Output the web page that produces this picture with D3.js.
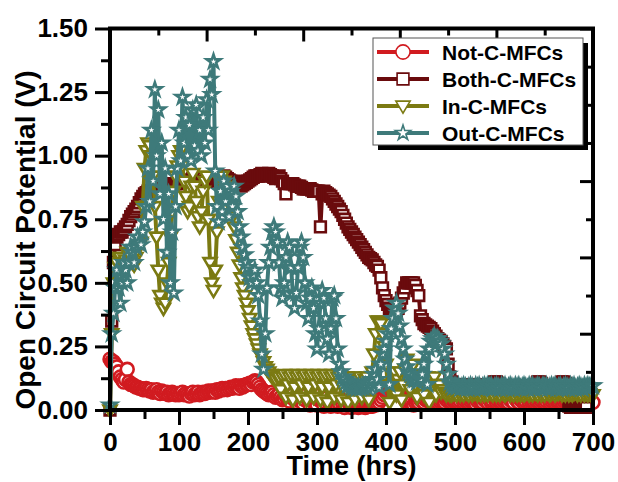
<!DOCTYPE html>
<html><head><meta charset="utf-8">
<script src="https://cdn.jsdelivr.net/npm/d3@7"></script>
<style>
body{margin:0;background:#fff}
text{font-family:"Liberation Sans",Arial,sans-serif;font-weight:bold;fill:#000}
</style>
</head><body>
<svg id="chart" width="618" height="482"></svg>
<script>
// ---- DATA ----
const hours = [
  0,2.5,5,7.5,10,12.5,15,17.5,20,22.5,25,27.5,30,32.5,35,37.5,40,42.5,45,47.5,
  50,52.5,55,57.5,60,62.5,65,67.5,70,72.5,75,77.5,80,82.5,85,87.5,90,92.5,95,97.5,
  100,102.5,105,107.5,110,112.5,115,117.5,120,122.5,125,127.5,130,132.5,135,137.5,140,142.5,145,147.5,
  150,152.5,155,157.5,160,162.5,165,167.5,170,172.5,175,177.5,180,182.5,185,187.5,190,192.5,195,197.5,
  200,202.5,205,207.5,210,212.5,215,217.5,220,222.5,225,227.5,230,232.5,235,237.5,240,242.5,245,247.5,
  250,252.5,255,257.5,260,262.5,265,267.5,270,272.5,275,277.5,280,282.5,285,287.5,290,292.5,295,297.5,
  300,302.5,305,307.5,310,312.5,315,317.5,320,322.5,325,327.5,330,332.5,335,337.5,340,342.5,345,347.5,
  350,352.5,355,357.5,360,362.5,365,367.5,370,372.5,375,377.5,380,382.5,385,387.5,390,392.5,395,397.5,
  400,402.5,405,407.5,410,412.5,415,417.5,420,422.5,425,427.5,430,432.5,435,437.5,440,442.5,445,447.5,
  450,452.5,455,457.5,460,462.5,465,467.5,470,472.5,475,477.5,480,482.5,485,487.5,490,492.5,495,497.5,
  500,502.5,505,507.5,510,512.5,515,517.5,520,522.5,525,527.5,530,532.5,535,537.5,540,542.5,545,547.5,
  550,552.5,555,557.5,560,562.5,565,567.5,570,572.5,575,577.5,580,582.5,585,587.5,590,592.5,595,597.5,
  600,602.5,605,607.5,610,612.5,615,617.5,620,622.5,625,627.5,630,632.5,635,637.5,640,642.5,645,647.5,
  650,652.5,655,657.5,660,662.5,665,667.5,670,672.5,675,677.5,680,682.5,685,687.5,690,692.5,695,697.5,
  700
];
const notC = [
  0.20,0.19,0.19,0.18,0.17,0.15,0.13,0.12,0.11,0.12,0.16,0.11,0.10,0.10,0.095,0.09,0.09,0.085,0.085,0.08,
  0.08,0.085,0.08,0.075,0.08,0.07,0.075,0.08,0.07,0.065,0.075,0.07,0.065,0.07,0.06,0.065,0.07,0.065,0.06,0.065,
  0.06,0.065,0.07,0.06,0.065,0.06,0.055,0.065,0.07,0.06,0.065,0.07,0.06,0.065,0.07,0.065,0.07,0.075,0.07,0.075,
  0.075,0.07,0.08,0.075,0.08,0.085,0.08,0.085,0.08,0.085,0.09,0.085,0.09,0.095,0.09,0.085,0.095,0.09,0.095,0.10,
  0.10,0.105,0.10,0.11,0.115,0.11,0.10,0.09,0.08,0.075,0.07,0.065,0.06,0.065,0.07,0.06,0.05,0.055,0.06,0.05,
  0.04,0.045,0.055,0.04,0.035,0.05,0.06,0.045,0.03,0.04,0.05,0.035,0.025,0.04,0.06,0.04,0.02,0.035,0.05,0.03,
  0.02,0.04,0.06,0.035,0.015,0.03,0.05,0.03,0.015,0.03,0.045,0.025,0.015,0.025,0.04,0.02,0.01,0.02,0.035,0.02,
  0.01,0.02,0.03,0.02,0.01,0.015,0.025,0.015,0.01,0.015,0.02,0.015,0.015,0.02,0.02,0.025,0.03,0.04,0.05,0.06,
  0.07,0.075,0.08,0.085,0.09,0.085,0.085,0.08,0.07,0.06,0.05,0.04,0.03,0.035,0.04,0.03,0.02,0.03,0.035,0.03,
  0.04,0.035,0.03,0.04,0.045,0.035,0.04,0.03,0.035,0.04,0.03,0.035,0.04,0.035,0.03,0.04,0.035,0.04,0.03,0.035,
  0.035,0.04,0.03,0.035,0.045,0.03,0.035,0.04,0.03,0.035,0.04,0.03,0.025,0.035,0.04,0.035,0.03,0.04,0.035,0.03,
  0.04,0.03,0.035,0.045,0.03,0.035,0.04,0.03,0.035,0.04,0.035,0.03,0.04,0.035,0.03,0.045,0.035,0.03,0.04,0.035,
  0.03,0.035,0.045,0.03,0.035,0.04,0.03,0.035,0.04,0.03,0.035,0.04,0.03,0.035,0.045,0.03,0.035,0.04,0.03,0.035,
  0.035,0.04,0.03,0.035,0.04,0.03,0.035,0.03,0.03,0.035,0.03,0.035,0.03,0.03,0.035,0.03,0.03,0.035,0.03,0.03,
  0.03
];
const bothC = [
  0.0,0.35,0.58,0.65,0.68,0.69,0.70,0.70,0.71,0.72,0.73,0.745,0.76,0.77,0.78,0.79,0.80,0.815,0.83,0.84,
  0.85,0.855,0.86,0.86,0.86,0.865,0.87,0.87,0.87,0.875,0.88,0.88,0.88,0.88,0.88,0.885,0.89,0.89,0.89,0.89,
  0.89,0.895,0.90,0.90,0.90,0.90,0.90,0.905,0.91,0.905,0.90,0.91,0.91,0.91,0.91,0.90,0.90,0.91,0.91,0.91,
  0.91,0.905,0.90,0.905,0.91,0.915,0.92,0.915,0.91,0.905,0.90,0.895,0.89,0.895,0.90,0.89,0.88,0.885,0.89,0.895,
  0.90,0.905,0.91,0.915,0.92,0.92,0.92,0.925,0.93,0.925,0.92,0.925,0.93,0.925,0.92,0.915,0.91,0.915,0.92,0.91,
  0.90,0.89,0.85,0.89,0.89,0.89,0.89,0.885,0.88,0.88,0.88,0.875,0.87,0.87,0.87,0.87,0.87,0.865,0.86,0.86,
  0.86,0.86,0.72,0.85,0.86,0.855,0.85,0.845,0.84,0.83,0.82,0.81,0.80,0.79,0.78,0.765,0.75,0.735,0.72,0.71,
  0.70,0.69,0.68,0.67,0.66,0.65,0.64,0.63,0.62,0.61,0.60,0.595,0.59,0.58,0.57,0.565,0.55,0.52,0.48,0.45,
  0.43,0.415,0.40,0.39,0.38,0.385,0.39,0.40,0.42,0.44,0.46,0.48,0.50,0.50,0.50,0.50,0.50,0.49,0.47,0.45,
  0.37,0.355,0.34,0.335,0.33,0.325,0.32,0.31,0.30,0.29,0.28,0.275,0.27,0.26,0.25,0.24,0.18,0.13,0.11,0.10,
  0.095,0.09,0.095,0.09,0.095,0.10,0.095,0.09,0.095,0.09,0.10,0.095,0.09,0.095,0.09,0.095,0.09,0.10,0.095,0.09,
  0.09,0.095,0.10,0.11,0.11,0.105,0.095,0.09,0.095,0.09,0.095,0.09,0.09,0.095,0.09,0.095,0.09,0.095,0.09,0.095,
  0.095,0.09,0.095,0.09,0.095,0.09,0.095,0.10,0.11,0.11,0.105,0.095,0.09,0.095,0.09,0.09,0.095,0.09,0.095,0.09,
  0.095,0.10,0.11,0.11,0.105,0.06,0.015,0.01,0.01,0.01,0.01,0.01,0.01,0.01,0.01,0.01,0.01,null,null,null,
  null
];
const inC = [
  0.0,0.30,0.50,0.56,0.58,0.60,0.60,0.58,0.55,0.59,0.62,0.61,0.60,0.58,0.57,0.60,0.63,0.65,0.66,0.80,
  0.95,1.02,1.05,1.04,1.00,0.92,0.80,0.68,0.55,0.45,0.42,0.40,0.42,0.50,0.58,0.68,0.78,0.86,0.92,0.96,
  1.00,1.02,0.96,0.90,0.84,0.78,0.80,0.88,0.93,0.88,0.82,0.76,0.72,0.78,0.86,0.90,0.92,0.75,0.58,0.50,
  0.47,0.55,0.70,0.82,0.90,0.92,0.90,0.88,0.86,0.84,0.80,0.76,0.72,0.67,0.62,0.57,0.52,0.48,0.45,0.42,
  0.39,0.36,0.33,0.30,0.28,0.26,0.24,0.22,0.21,0.19,0.17,0.16,0.15,0.14,0.13,0.125,0.12,0.13,0.13,0.08,
  0.13,0.14,0.05,0.10,0.13,0.14,0.04,0.09,0.13,0.14,0.05,0.10,0.13,0.14,0.04,0.09,0.13,0.14,0.05,0.10,
  0.13,0.14,0.04,0.09,0.13,0.14,0.03,0.09,0.13,0.14,0.05,0.10,0.13,0.14,0.04,0.09,0.13,0.13,0.03,0.09,
  0.12,0.13,0.04,0.09,0.12,0.13,0.05,0.10,0.12,0.13,0.04,0.10,0.15,0.22,0.30,0.35,0.35,0.34,0.30,0.25,
  0.18,0.10,0.03,0.10,0.14,0.15,0.06,0.12,0.15,0.04,0.10,0.16,0.20,0.12,0.08,0.17,0.18,0.10,0.05,0.12,
  0.14,0.13,0.06,0.12,0.13,0.03,0.09,0.12,0.13,0.06,0.10,0.10,0.07,0.08,0.07,0.06,0.065,0.06,0.06,0.065,
  0.065,0.06,0.07,0.06,0.065,0.06,0.07,0.065,0.06,0.07,0.06,0.065,0.07,0.06,0.065,0.06,0.07,0.06,0.065,0.06,
  0.07,0.065,0.06,0.07,0.06,0.065,0.06,0.07,0.065,0.06,0.065,0.07,0.06,0.065,0.06,0.07,0.06,0.065,0.06,0.065,
  0.06,0.065,0.07,0.06,0.065,0.06,0.07,0.065,0.06,0.07,0.06,0.065,0.06,0.07,0.065,0.06,0.065,0.07,0.06,0.065,
  0.065,0.07,0.06,0.065,0.06,0.07,0.06,0.065,0.06,0.065,0.07,0.06,0.065,0.06,0.07,0.06,0.065,0.06,0.065,0.06,
  0.06
];
const outC = [
  0.02,0.30,0.38,0.48,0.55,0.48,0.42,0.50,0.58,0.55,0.50,0.58,0.64,0.62,0.58,0.64,0.68,0.66,0.65,0.70,
  0.74,0.80,0.95,0.82,1.10,0.90,1.26,1.00,1.18,0.85,1.05,0.75,0.95,0.62,0.85,0.50,0.70,0.46,0.80,0.95,
  1.10,0.98,1.23,1.05,1.15,1.00,1.12,0.98,1.18,1.04,1.20,1.02,1.10,1.00,1.15,1.05,1.22,1.10,1.30,1.24,
  1.37,0.94,0.80,0.74,0.86,0.78,0.90,0.82,0.88,0.76,0.86,0.80,0.88,0.84,0.78,0.72,0.68,0.64,0.61,0.58,
  0.56,0.52,0.50,0.53,0.55,0.50,0.45,0.35,0.22,0.16,0.30,0.48,0.58,0.64,0.70,0.72,0.70,0.66,0.58,0.48,
  0.44,0.50,0.60,0.66,0.64,0.56,0.46,0.40,0.46,0.56,0.64,0.66,0.60,0.50,0.42,0.36,0.44,0.48,0.40,0.30,
  0.24,0.32,0.42,0.47,0.44,0.36,0.28,0.22,0.32,0.44,0.45,0.36,0.24,0.18,0.15,0.13,0.12,0.11,0.10,0.10,
  0.095,0.09,0.09,0.085,0.09,0.085,0.09,0.09,0.095,0.09,0.10,0.11,0.12,0.14,0.16,0.12,0.09,0.18,0.22,0.24,
  0.27,0.30,0.10,0.32,0.36,0.40,0.42,0.38,0.33,0.28,0.24,0.20,0.17,0.15,0.14,0.13,0.12,0.12,0.11,0.12,
  0.12,0.14,0.18,0.22,0.10,0.24,0.27,0.28,0.29,0.28,0.28,0.27,0.26,0.24,0.22,0.18,0.14,0.11,0.10,0.09,
  0.095,0.09,0.095,0.085,0.09,0.095,0.09,0.085,0.09,0.095,0.09,0.085,0.095,0.09,0.095,0.085,0.09,0.095,0.09,0.095,
  0.09,0.095,0.085,0.09,0.095,0.09,0.085,0.095,0.09,0.095,0.085,0.09,0.095,0.09,0.085,0.095,0.09,0.095,0.085,0.09,
  0.095,0.09,0.085,0.095,0.09,0.095,0.085,0.09,0.095,0.09,0.085,0.095,0.09,0.095,0.085,0.09,0.095,0.09,0.095,0.085,
  0.09,0.095,0.085,0.09,0.095,0.09,0.085,0.095,0.09,0.095,0.085,0.09,0.095,0.09,0.085,0.095,0.09,0.095,0.09,0.095,
  0.095
];
const seriesNames = ["Not-C-MFCs","Both-C-MFCs","In-C-MFCs","Out-C-MFCs"];
const seriesColors = ["#d11b20","#6a0b0d","#7b7a12","#3e7a7a"];
const seriesShapes = ["circle","square","triangleDown","star"];
const seriesValues = [notC, bothC, inC, outC];
const xTicks = [0,100,200,300,400,500,600,700];
const xMinor = [50,150,250,350,450,550,650];
const yTicks = [0,0.25,0.5,0.75,1.0,1.25,1.5];
const yMinor = [0.125,0.375,0.625,0.875,1.125,1.375];

// ---- LAYOUT ----
const svg = d3.select("#chart");
const L = 110, R = 593, T = 28.5, B = 410;
const x = d3.scaleLinear().domain([0,700]).range([L,R]);
const y = d3.scaleLinear().domain([0,1.5]).range([B,T]);

function symbolPath(shape, big){
  const k = big ? 1.1 : 1;
  if(shape==="circle") return d3.symbol(d3.symbolCircle, 130*k*k)();
  if(shape==="square") return d3.symbol(d3.symbolSquare, 115*k*k)();
  if(shape==="star") return d3.symbol(d3.symbolStar, 58*k*k)();
  const w = 6.5*k, h = 11*k;
  return `M${-w},${-h*0.4}L${w},${-h*0.4}L0,${h*0.6}Z`;
}

const plot = svg.append("g");
seriesValues.forEach((vals,si)=>{
  const pts = hours.map((h,i)=>[h,vals[i]]).filter(d=>d[1]!=null);
  const col = seriesColors[si];
  plot.append("path")
    .attr("d", d3.line().x(d=>x(d[0])).y(d=>y(d[1]))(pts))
    .attr("fill","none").attr("stroke",col).attr("stroke-width",4)
    .attr("stroke-linejoin","round");
  plot.append("g").selectAll("path").data(pts).join("path")
    .attr("transform", d=>`translate(${x(d[0])},${y(d[1])})`)
    .attr("d", symbolPath(seriesShapes[si]))
    .attr("fill","#fff").attr("stroke",col).attr("stroke-width",2.6);
});

// ---- AXES ----
function styleAxis(g){
  g.select(".domain").remove();
  g.selectAll("line").attr("stroke","#000").attr("stroke-width",3);
  g.selectAll("text").style("font-size","26px").style("font-weight","bold")
    .style("font-family",'"Liberation Sans",Arial,sans-serif');
}
svg.append("g").attr("transform",`translate(0,${B})`)
  .call(d3.axisBottom(x).tickValues(xTicks).tickSize(15).tickPadding(8).tickFormat(d3.format("d")))
  .call(styleAxis);
svg.append("g").attr("transform",`translate(0,${B})`)
  .call(d3.axisBottom(x).tickValues(xMinor).tickSize(9).tickFormat(""))
  .call(styleAxis);
svg.append("g").attr("transform",`translate(${L},0)`)
  .call(d3.axisLeft(y).tickValues(yTicks).tickSize(15).tickPadding(7).tickFormat(d3.format(".2f")))
  .call(styleAxis);
svg.append("g").attr("transform",`translate(${L},0)`)
  .call(d3.axisLeft(y).tickValues(yMinor).tickSize(9).tickFormat(""))
  .call(styleAxis);
const topMajor = [0,140,280,420,560,700], topMinor = [70,210,350,490,630];
const rightMajor = [0,0.3,0.6,0.9,1.2,1.5], rightMinor = [0.15,0.45,0.75,1.05,1.35];
svg.append("g").attr("transform",`translate(0,${T})`)
  .call(d3.axisTop(x).tickValues(topMajor).tickSize(-13).tickFormat("")).call(styleAxis);
svg.append("g").attr("transform",`translate(0,${T})`)
  .call(d3.axisTop(x).tickValues(topMinor).tickSize(-7).tickFormat("")).call(styleAxis);
svg.append("g").attr("transform",`translate(${R},0)`)
  .call(d3.axisRight(y).tickValues(rightMajor).tickSize(-13).tickFormat("")).call(styleAxis);
svg.append("g").attr("transform",`translate(${R},0)`)
  .call(d3.axisRight(y).tickValues(rightMinor).tickSize(-7).tickFormat("")).call(styleAxis);

svg.append("rect").attr("x",L).attr("y",T).attr("width",R-L).attr("height",B-T)
  .attr("fill","none").attr("stroke","#000").attr("stroke-width",4);

svg.append("text").attr("x",(L+R)/2).attr("y",475).attr("text-anchor","middle")
  .style("font-size","27px").text("Time (hrs)");
svg.append("text").attr("transform","translate(35,240) rotate(-90)").attr("text-anchor","middle")
  .style("font-size","28px").text("Open Circuit Potential (V)");

// ---- LEGEND ----
const lg = svg.append("g");
lg.append("rect").attr("x",378).attr("y",43).attr("width",210).attr("height",107).attr("fill","#000");
lg.append("rect").attr("x",373).attr("y",38).attr("width",210).attr("height",107)
  .attr("fill","#fff").attr("stroke","#555").attr("stroke-width",1);
seriesNames.forEach((nm,i)=>{
  const yy = 52 + i*27;
  lg.append("line").attr("x1",377).attr("x2",429).attr("y1",yy).attr("y2",yy)
    .attr("stroke",seriesColors[i]).attr("stroke-width",4);
  lg.append("path").attr("transform",`translate(403,${yy})`).attr("d",symbolPath(seriesShapes[i],true))
    .attr("fill","#fff").attr("stroke",seriesColors[i]).attr("stroke-width",1.6);
  lg.append("text").attr("x",442).attr("y",yy+7.5).style("font-size","21px").text(nm);
});
</script>
</body></html>
